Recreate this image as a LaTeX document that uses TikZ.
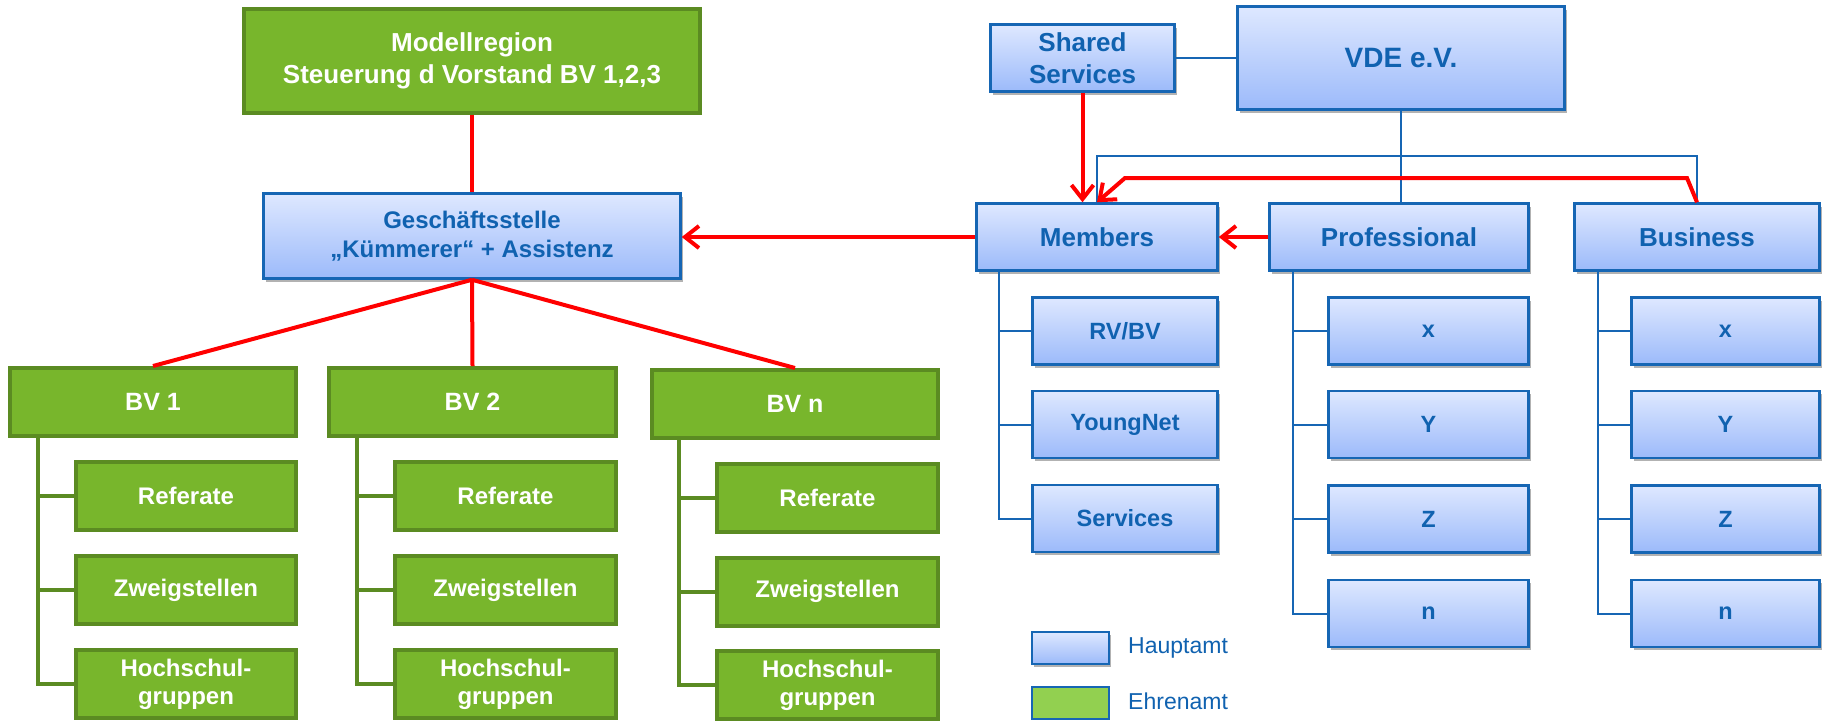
\documentclass[tikz,border=0pt]{standalone}
\usepackage{fontspec}
\setmainfont{Liberation Sans}
\usetikzlibrary{arrows.meta,shadows}
\definecolor{gfill}{RGB}{120,182,44}
\definecolor{gline}{RGB}{91,139,34}
\definecolor{btop}{RGB}{222,232,255}
\definecolor{bbot}{RGB}{156,186,250}
\definecolor{bline}{RGB}{22,102,180}
\definecolor{btext}{RGB}{16,98,176}
\definecolor{lgreen}{RGB}{146,208,80}
\definecolor{rline}{RGB}{255,0,0}
\tikzset{
  sz/.style 2 args={minimum width=#1pt, minimum height=#2pt},
  gbox/.style={draw=gline, line width=4pt, fill=gfill, text=white, align=center, inner sep=0pt,
    font=\bfseries\fontsize{24}{28}\selectfont},
  bbox/.style={draw=bline, line width=2.5pt, top color=btop, bottom color=bbot, text=btext,
    align=center, inner sep=0pt, font=\bfseries\fontsize{26}{32}\selectfont,
    drop shadow={shadow xshift=2pt, shadow yshift=-3pt, opacity=0.3, fill=black}},
  bsub/.style={bbox, font=\bfseries\fontsize{23.5}{28}\selectfont},
  gcon/.style={draw=gline, line width=4pt},
  bcon/.style={draw=bline, line width=2pt},
  rcon/.style={draw=rline, line width=4pt},
  rarr/.style={rcon, -{Straight Barb[length=14pt,width=22pt]}},
  legtext/.style={anchor=west, text=btext, inner sep=0pt, font=\fontsize{23}{28}\selectfont},
}
\begin{document}
\begin{tikzpicture}[x=1pt,y=-1pt]
\useasboundingbox (0,0) rectangle (1828,721);
\begin{scope}
\clip (0,0) rectangle (1828,721);
% ---------- left side (green) ----------
\node[gbox, sz={456}{104}, font=\bfseries\fontsize{26}{32}\selectfont] (mod) at (472,61) {Modellregion\\Steuerung d Vorstand BV 1,2,3};
\node[bbox, sz={417}{85}, font=\bfseries\fontsize{24}{29}\selectfont] (gs) at (472,236) {Geschäftsstelle\\„Kümmerer“ + Assistenz};

\node[gbox, sz={286}{68}, font=\bfseries\fontsize{25}{30}\selectfont] (bv1) at (153,402) {BV 1};
\node[gbox, sz={287}{68}, font=\bfseries\fontsize{25}{30}\selectfont] (bv2) at (472.5,402) {BV 2};
\node[gbox, sz={286}{68}, font=\bfseries\fontsize{25}{30}\selectfont] (bvn) at (795,404) {BV n};

\node[gbox, sz={220}{68}] (ra) at (186,496) {Referate};
\node[gbox, sz={220}{68}] (za) at (186,590) {Zweigstellen};
\node[gbox, sz={220}{68}] (ha) at (186,684) {Hochschul-\\gruppen};
\node[gbox, sz={221}{68}] (rb) at (505.5,496) {Referate};
\node[gbox, sz={221}{68}] (zb) at (505.5,590) {Zweigstellen};
\node[gbox, sz={221}{68}] (hb) at (505.5,684) {Hochschul-\\gruppen};
\node[gbox, sz={221}{68}] (rn) at (827.5,498) {Referate};
\node[gbox, sz={221}{68}] (zn) at (827.5,591.5) {Zweigstellen};
\node[gbox, sz={221}{68}] (hn) at (827.5,685) {Hochschul-\\gruppen};

\coordinate (ta) at (38,438);
\coordinate (tb) at (357,438);
\coordinate (tn) at (679,440);
\draw[gcon] (ta) |- (ra.west); \draw[gcon] (ta) |- (za.west); \draw[gcon] (ta) |- (ha.west);
\draw[gcon] (tb) |- (rb.west); \draw[gcon] (tb) |- (zb.west); \draw[gcon] (tb) |- (hb.west);
\draw[gcon] (tn) |- (rn.west); \draw[gcon] (tn) |- (zn.west); \draw[gcon] (tn) |- (hn.west);

% ---------- right side (blue) ----------
\node[bbox, sz={184}{67}] (ss) at (1082.5,58) {Shared\\Services};
\node[bbox, sz={327}{103}, font=\bfseries\fontsize{28}{32}\selectfont] (vde) at (1401,58) {VDE e.V.};
\node[bbox, sz={241}{67}] (mem) at (1097,237) {Members};
\node[bbox, sz={259}{67}] (prof) at (1399,237) {Professional};
\node[bbox, sz={245}{67}] (bus) at (1697,237) {Business};

\node[bsub, sz={185}{67}] (m1) at (1125,331) {RV/BV};
\node[bsub, sz={185}{67}] (m2) at (1125,424.5) {YoungNet};
\node[bsub, sz={185}{67}] (m3) at (1125,518.5) {Services};

\node[bsub, sz={200}{67}] (p1) at (1428.5,331) {x};
\node[bsub, sz={200}{67}] (p2) at (1428.5,424.5) {Y};
\node[bsub, sz={200}{67}] (p3) at (1428.5,519) {Z};
\node[bsub, sz={200}{67}] (p4) at (1428.5,613.5) {n};

\node[bsub, sz={188}{67}] (b1) at (1725.5,331) {x};
\node[bsub, sz={188}{67}] (b2) at (1725.5,424.5) {Y};
\node[bsub, sz={188}{67}] (b3) at (1725.5,519) {Z};
\node[bsub, sz={188}{67}] (b4) at (1725.5,613.5) {n};

\coordinate (tm) at (999,272);
\coordinate (tp) at (1293,272);
\coordinate (tq) at (1598,272);
\draw[bcon] (tm) |- (m1.west); \draw[bcon] (tm) |- (m2.west); \draw[bcon] (tm) |- (m3.west);
\draw[bcon] (tp) |- (p1.west); \draw[bcon] (tp) |- (p2.west); \draw[bcon] (tp) |- (p3.west); \draw[bcon] (tp) |- (p4.west);
\draw[bcon] (tq) |- (b1.west); \draw[bcon] (tq) |- (b2.west); \draw[bcon] (tq) |- (b3.west); \draw[bcon] (tq) |- (b4.west);

\draw[bcon] (ss.east) -- (vde.west);
\draw[bcon] (vde.south) -- (vde.south |- prof.north);
\coordinate (br) at (1400,156);
\draw[bcon] (mem.north) |- (br) -| (bus.north);

% ---------- red connectors ----------
\draw[rcon] (mod.south) -- (gs.north);
\draw[rcon] (gs.south) -- (bv1.north);
\draw[rcon] (gs.south) -- (bv2.north);
\draw[rcon] (gs.south) -- (bvn.north);
\draw[rarr] (mem.west) -- (mem.west -| gs.east);
\draw[rarr] (prof.west) -- (prof.west -| mem.east);
\draw[rarr] (ss.south) -- (ss.south |- mem.north);
\coordinate (r1) at (1687,178);
\coordinate (r2) at (1125,178);
\draw[rarr, line join=miter] (bus.north) -- (r1) -- (r2) -- (mem.north);

% ---------- legend ----------
\node[bbox, sz={77}{32}] (lh) at (1070.5,648) {};
\node[draw=bline, line width=2.5pt, fill=lgreen, sz={77}{32}, inner sep=0pt] (le) at (1070.5,703) {};
\node[legtext] (lht) at (1128,648) {Hauptamt};
\node[legtext] (let) at (1128,701) {Ehrenamt};
\end{scope}
\end{tikzpicture}
\end{document}
